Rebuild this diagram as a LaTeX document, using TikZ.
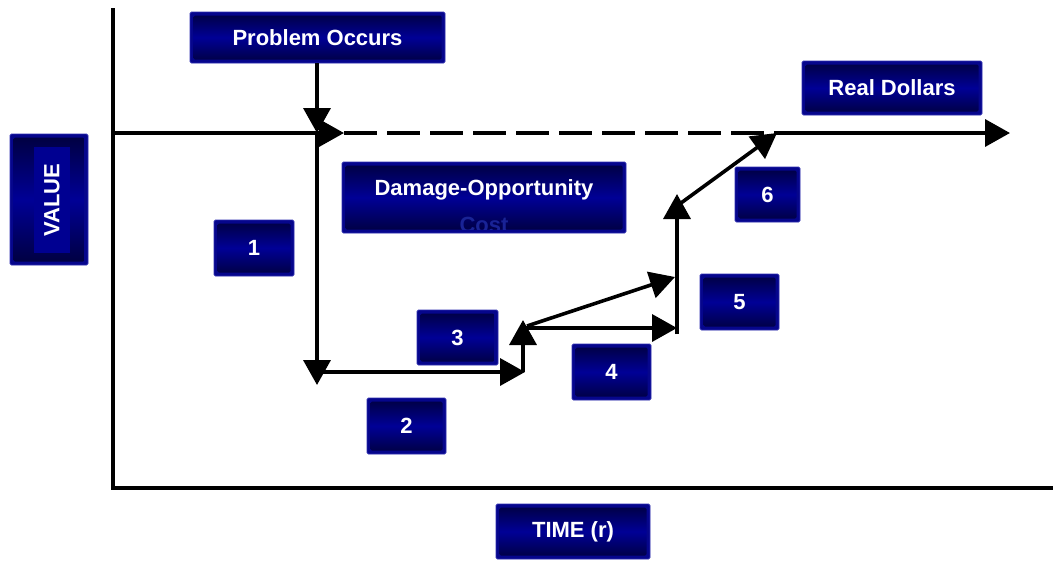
\documentclass[tikz,border=0pt]{standalone}
\usepackage{fontspec}
\setmainfont{Liberation Sans}
\usetikzlibrary{arrows.meta,calc}

\definecolor{navydark}{RGB}{0,0,62}
\definecolor{navymid}{RGB}{0,0,150}
\definecolor{navyrim}{RGB}{6,6,140}
\definecolor{navyedge}{RGB}{45,45,175}
\definecolor{bandblue}{RGB}{0,0,145}
\definecolor{costblue}{RGB}{25,35,150}

\tikzset{
  panel/.style={draw=navyedge, line width=0.8pt, fill=navyrim, rounded corners=1.5pt,
    inner sep=0pt, text=white, font=\bfseries\fontsize{22}{24}\selectfont,
    path picture={\shade[top color=navydark, bottom color=navydark, middle color=navymid]
      ($(path picture bounding box.south west)+(3.5pt,3.5pt)$) rectangle
      ($(path picture bounding box.north east)+(-3.5pt,-3.5pt)$);}},
  label/.style={inner sep=0pt, text=white, font=\bfseries\fontsize{22}{24}\selectfont},
  axisline/.style={line width=4pt, line join=miter},
  flow/.style={line width=3.6pt, -{Triangle[length=25pt,width=27pt]}},
  level/.style={line width=3.6pt},
}

\begin{document}
\begin{tikzpicture}[x=1pt,y=-1pt]
\useasboundingbox (0,0) rectangle (1053,560);

% axes
\coordinate (ytop) at (113,8);
\coordinate (org) at (113,488);
\coordinate (xend) at (1053,488);
\draw[axisline] (ytop) -- (org) -- (xend);

% value level and the path of the loss
\coordinate (lvl0) at (113,133);
\coordinate (hit) at (317,133);
\coordinate (tipA) at (344,133);
\coordinate (rejoin) at (777,133);
\coordinate (lvlend) at (1010,133);
\coordinate (low) at (317,385);
\coordinate (lowL) at (317,372);
\coordinate (lowR) at (525,372);
\coordinate (stepB) at (523,372);
\coordinate (stepT) at (523,320);
\coordinate (midL) at (523,328);
\coordinate (midR) at (677,328);
\coordinate (diagA) at (527,326);
\coordinate (diagAT) at (675,277);
\coordinate (riseB) at (677,334);
\coordinate (riseT) at (677,194);
\coordinate (diagB) at (681,203);

\draw[level] (lvl0) -- (hit);
\draw[flow] (hit) -- (tipA);
\draw[level, dash pattern=on 33pt off 10pt] (tipA) -- (rejoin);
\draw[flow] (rejoin) -- (lvlend);

% boxes
\node[panel, minimum width=255pt, minimum height=51pt] (prob) at (317.5,37.5) {Problem Occurs};
\node[panel, minimum width=180pt, minimum height=54pt] (real) at (892,88) {Real Dollars};
\node[panel, minimum width=78pt, minimum height=131pt] (valbox) at (49,199.5) {};
\node[label, fill=bandblue, rotate=90, minimum width=106pt, minimum height=36pt] (valtext) at (52,200) {VALUE};
\node[panel, minimum width=284pt, minimum height=71pt] (dmg) at (484,197.5) {};
\node[label] (dmgtext) at (484,190) {Damage-Opportunity};
\begin{scope}
  \clip ($(dmg.south west)+(3.5pt,4pt)$) rectangle ($(dmg.north east)+(-3.5pt,-3.5pt)$);
  \node[label, text=costblue] (cost) at (484,225) {Cost};
\end{scope}
\node[panel, minimum width=80pt, minimum height=56pt] (n1) at (254,248) {1};
\node[panel, minimum width=79pt, minimum height=56pt] (n2) at (406.5,426) {2};
\node[panel, minimum width=81pt, minimum height=55pt] (n3) at (457.5,337.5) {3};
\node[panel, minimum width=79pt, minimum height=56pt] (n4) at (611.5,372) {4};
\node[panel, minimum width=79pt, minimum height=56pt] (n5) at (739.5,302) {5};
\node[panel, minimum width=65pt, minimum height=55pt] (n6) at (767.5,194.5) {6};
\node[panel, minimum width=154pt, minimum height=55pt] (time) at (573,531.5) {TIME (r)};

% connectors
\coordinate (probfoot) at (317,63);
\draw[flow] (probfoot) -- (hit);
\draw[flow] (hit) -- (low);
\draw[flow] (lowL) -- (lowR);
\draw[flow] (stepB) -- (stepT);
\draw[flow] (midL) -- (midR);
\draw[flow] (diagA) -- (diagAT);
\draw[flow] (riseB) -- (riseT);
\draw[flow] (diagB) -- (rejoin);
\end{tikzpicture}
\end{document}
